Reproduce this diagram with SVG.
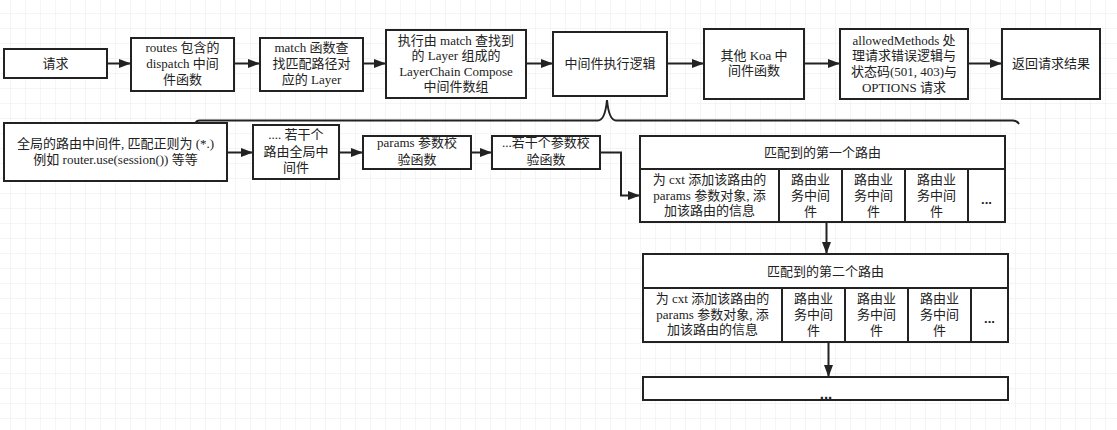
<svg xmlns="http://www.w3.org/2000/svg" width="1117" height="430" viewBox="0 0 1117 430">
<defs>
<pattern id="grid" x="10" y="13" width="15" height="15" patternUnits="userSpaceOnUse">
<path d="M0 0H15M0 0V15" fill="none" stroke="#ebebeb" stroke-width="1"/>
</pattern>
<marker id="ah" viewBox="0 0 12 9" refX="12" refY="4.5" markerWidth="12" markerHeight="9" markerUnits="userSpaceOnUse" orient="auto">
<path d="M0 0L12 4.5L0 9Z" fill="#222"/>
</marker>
<style>
.n{fill:#fff;stroke:#222;stroke-width:2}
.c{fill:none;stroke:#222;stroke-width:2}
.t{font-family:"Liberation Serif","Noto Sans CJK SC",serif;font-size:13px;fill:#222;text-anchor:middle}
.d{font-family:"Liberation Sans",sans-serif;font-size:13px;font-weight:bold;fill:#222;text-anchor:middle}
</style>
</defs>
<rect width="1117" height="430" fill="#fff"/>
<rect width="1117" height="430" fill="url(#grid)"/>

<g id="connectors">
<path class="c" d="M107 63.5H131" marker-end="url(#ah)"/>
<path class="c" d="M234 63.5H260" marker-end="url(#ah)"/>
<path class="c" d="M363 63.5H386" marker-end="url(#ah)"/>
<path class="c" d="M526 63.5H553" marker-end="url(#ah)"/>
<path class="c" d="M667 63.5H704" marker-end="url(#ah)"/>
<path class="c" d="M804 63.5H840" marker-end="url(#ah)"/>
<path class="c" d="M968 63.5H1002" marker-end="url(#ah)"/>
<path class="c" d="M227 152.5H253" marker-end="url(#ah)"/>
<path class="c" d="M339 152.5H363" marker-end="url(#ah)"/>
<path class="c" d="M471 152.5H492" marker-end="url(#ah)"/>
<path class="c" d="M600 152.5H621V195.5H640" marker-end="url(#ah)"/>
<path class="c" d="M826.5 222V254" marker-end="url(#ah)"/>
<path class="c" d="M828.5 342V377" marker-end="url(#ah)"/>
</g>

<g id="brace">
<path class="c" d="M195 124Q196 120.5 200 120.5H598Q605 120.5 607 100Q609 120.5 616 120.5H1013Q1017 120.5 1019 124"/>
</g>

<g id="n1"><rect class="n" x="4" y="49" width="103" height="29"/><text class="t" x="55.5" y="68">请求</text></g>
<g id="n2"><rect class="n" x="131" y="38" width="103" height="53"/>
<text class="t" x="182.5" y="52">routes 包含的</text><text class="t" x="182.5" y="68">dispatch 中间</text><text class="t" x="182.5" y="84">件函数</text></g>
<g id="n3"><rect class="n" x="260" y="38" width="103" height="53"/>
<text class="t" x="311.5" y="52">match 函数查</text><text class="t" x="311.5" y="68">找匹配路径对</text><text class="t" x="311.5" y="84">应的 Layer</text></g>
<g id="n4"><rect class="n" x="386" y="30" width="140" height="68"/>
<text class="t" x="456" y="45">执行由 match 查找到</text><text class="t" x="456" y="60">的 Layer 组成的</text><text class="t" x="456" y="76">LayerChain Compose</text><text class="t" x="456" y="91">中间件数组</text></g>
<g id="n5"><rect class="n" x="553" y="32" width="114" height="64"/><text class="t" x="610" y="68">中间件执行逻辑</text></g>
<g id="n6"><rect class="n" x="704" y="29" width="100" height="70"/>
<text class="t" x="754" y="60">其他 Koa 中</text><text class="t" x="754" y="75">间件函数</text></g>
<g id="n7"><rect class="n" x="840" y="29" width="128" height="70"/>
<text class="t" x="904" y="45">allowedMethods 处</text><text class="t" x="904" y="60">理请求错误逻辑与</text><text class="t" x="904" y="76">状态码(501, 403)与</text><text class="t" x="904" y="92">OPTIONS 请求</text></g>
<g id="n8"><rect class="n" x="1002" y="29" width="98" height="70"/><text class="t" x="1051" y="68">返回请求结果</text></g>

<g id="n9"><rect class="n" x="4" y="123" width="223" height="58"/>
<text class="t" x="115.5" y="148">全局的路由中间件, 匹配正则为 (*.)</text><text class="t" x="115.5" y="164">例如 router.use(session()) 等等</text></g>
<g id="n10"><rect class="n" x="253" y="125" width="86" height="54"/>
<text class="t" x="296" y="139">.... 若干个</text><text class="t" x="296" y="156">路由全局中</text><text class="t" x="296" y="172">间件</text></g>
<g id="n11"><rect class="n" x="363" y="136" width="108" height="33"/>
<text class="t" x="417" y="147">params 参数校</text><text class="t" x="417" y="164">验函数</text></g>
<g id="n12"><rect class="n" x="492" y="136" width="108" height="33"/>
<text class="t" x="546" y="147">...若干个参数校</text><text class="t" x="546" y="164">验函数</text></g>

<g id="route1">
<rect class="n" x="640" y="136" width="365" height="86"/>
<path class="c" d="M640 169H1005M779 169V222M842 169V222M905 169V222M968 169V222"/>
<text class="t" x="822.5" y="157">匹配到的第一个路由</text>
<text class="t" x="709.5" y="184">为 cxt 添加该路由的</text><text class="t" x="709.5" y="200">params 参数对象, 添</text><text class="t" x="709.5" y="215">加该路由的信息</text>
<text class="t" x="810.5" y="184">路由业</text><text class="t" x="810.5" y="200">务中间</text><text class="t" x="810.5" y="216">件</text>
<text class="t" x="873.5" y="184">路由业</text><text class="t" x="873.5" y="200">务中间</text><text class="t" x="873.5" y="216">件</text>
<text class="t" x="936.5" y="184">路由业</text><text class="t" x="936.5" y="200">务中间</text><text class="t" x="936.5" y="216">件</text>
<text class="d" x="986.5" y="204">...</text>
</g>

<g id="route2">
<rect class="n" x="643" y="254" width="365" height="88"/>
<path class="c" d="M643 288H1008M782 288V342M845 288V342M908 288V342M971 288V342"/>
<text class="t" x="825.5" y="276">匹配到的第二个路由</text>
<text class="t" x="712.5" y="303">为 cxt 添加该路由的</text><text class="t" x="712.5" y="319">params 参数对象, 添</text><text class="t" x="712.5" y="334">加该路由的信息</text>
<text class="t" x="813.5" y="303">路由业</text><text class="t" x="813.5" y="319">务中间</text><text class="t" x="813.5" y="335">件</text>
<text class="t" x="876.5" y="303">路由业</text><text class="t" x="876.5" y="319">务中间</text><text class="t" x="876.5" y="335">件</text>
<text class="t" x="939.5" y="303">路由业</text><text class="t" x="939.5" y="319">务中间</text><text class="t" x="939.5" y="335">件</text>
<text class="d" x="989.5" y="323">...</text>
</g>

<g id="more">
<rect class="n" x="643" y="377" width="365" height="23"/>
<text class="d" x="826" y="399" style="font-size:15px">...</text>
</g>
</svg>
